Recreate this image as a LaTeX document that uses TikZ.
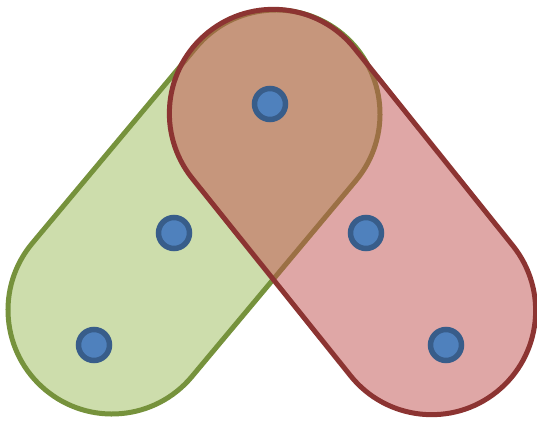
\documentclass[tikz,border=0pt]{standalone}
\usetikzlibrary{shapes.misc}
\definecolor{setgreen}{RGB}{155,187,89}
\definecolor{setgreenedge}{RGB}{118,146,60}
\definecolor{setred}{RGB}{192,80,77}
\definecolor{setrededge}{RGB}{140,52,50}
\definecolor{dotblue}{RGB}{79,129,189}
\definecolor{dotedge}{RGB}{56,93,138}
\begin{document}
\begin{tikzpicture}[x=1pt,y=1pt,
  capsule/.style={rounded rectangle,inner sep=0pt,minimum height=208pt,line width=5pt,fill opacity=0.5},
  elem/.style={circle,draw=dotedge,fill=dotblue,line width=5.5pt,minimum size=31pt,inner sep=0pt}]
  \useasboundingbox (0,0) rectangle (537,420);
  % the two sets
  \node[capsule,draw=setgreenedge,fill=setgreen,minimum width=463.6pt,rotate=50.08] (green) at (194,208) {};
  \node[capsule,draw=setrededge,fill=setred,minimum width=461pt,rotate=-51.27] (red) at (352.5,208) {};
  % elements
  \node[elem] (e1) at (270,316) {};
  \node[elem] (e2) at (174,187) {};
  \node[elem] (e3) at (94,75) {};
  \node[elem] (e4) at (366,187) {};
  \node[elem] (e5) at (446,75) {};
\end{tikzpicture}
\end{document}
